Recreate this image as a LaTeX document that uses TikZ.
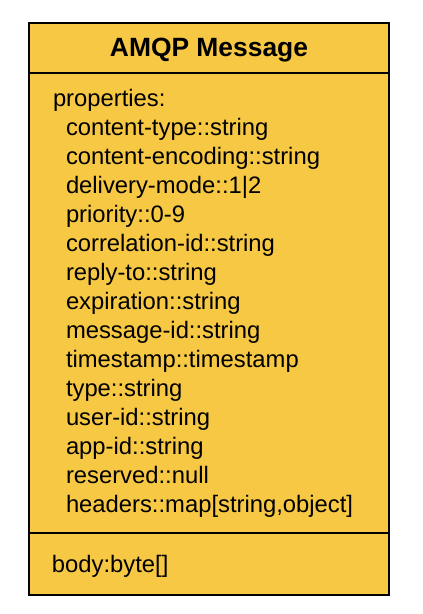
\documentclass[tikz,border=0pt]{standalone}
\usepackage{fontspec}
\setmainfont{Liberation Sans}
\definecolor{msgyellow}{HTML}{F6C844}

\begin{document}
\begin{tikzpicture}[x = 1pt, y = -1pt, line width = 2pt,
    every node/.style = {inner sep = 0pt, anchor = base west,
        font = \fontsize{23.8}{29}\selectfont}]
    \useasboundingbox (0,0) rectangle (423,614);
    \draw[fill = msgyellow] (29,23) rectangle (389,595);
    \draw (29,73) -- (389,73);
    \draw (29,533) -- (389,533);
    \node[anchor = base, font = \fontsize{26.4}{30}\selectfont\bfseries] (title) at (209,56) {AMQP Message};
    \node (props) at (52,106) {properties:};
    \foreach \name [count = \i] in {content-type::string, content-encoding::string,
        delivery-mode::1|2, priority::0-9, correlation-id::string, reply-to::string,
        expiration::string, message-id::string, timestamp::timestamp, type::string,
        user-id::string, app-id::string, reserved::null, {headers::map[string,object]}}
        \node (prop\i) at (65,106+29.07*\i) {\name};
    \node (body) at (51,572) {body:byte[]};
\end{tikzpicture}
\end{document}
